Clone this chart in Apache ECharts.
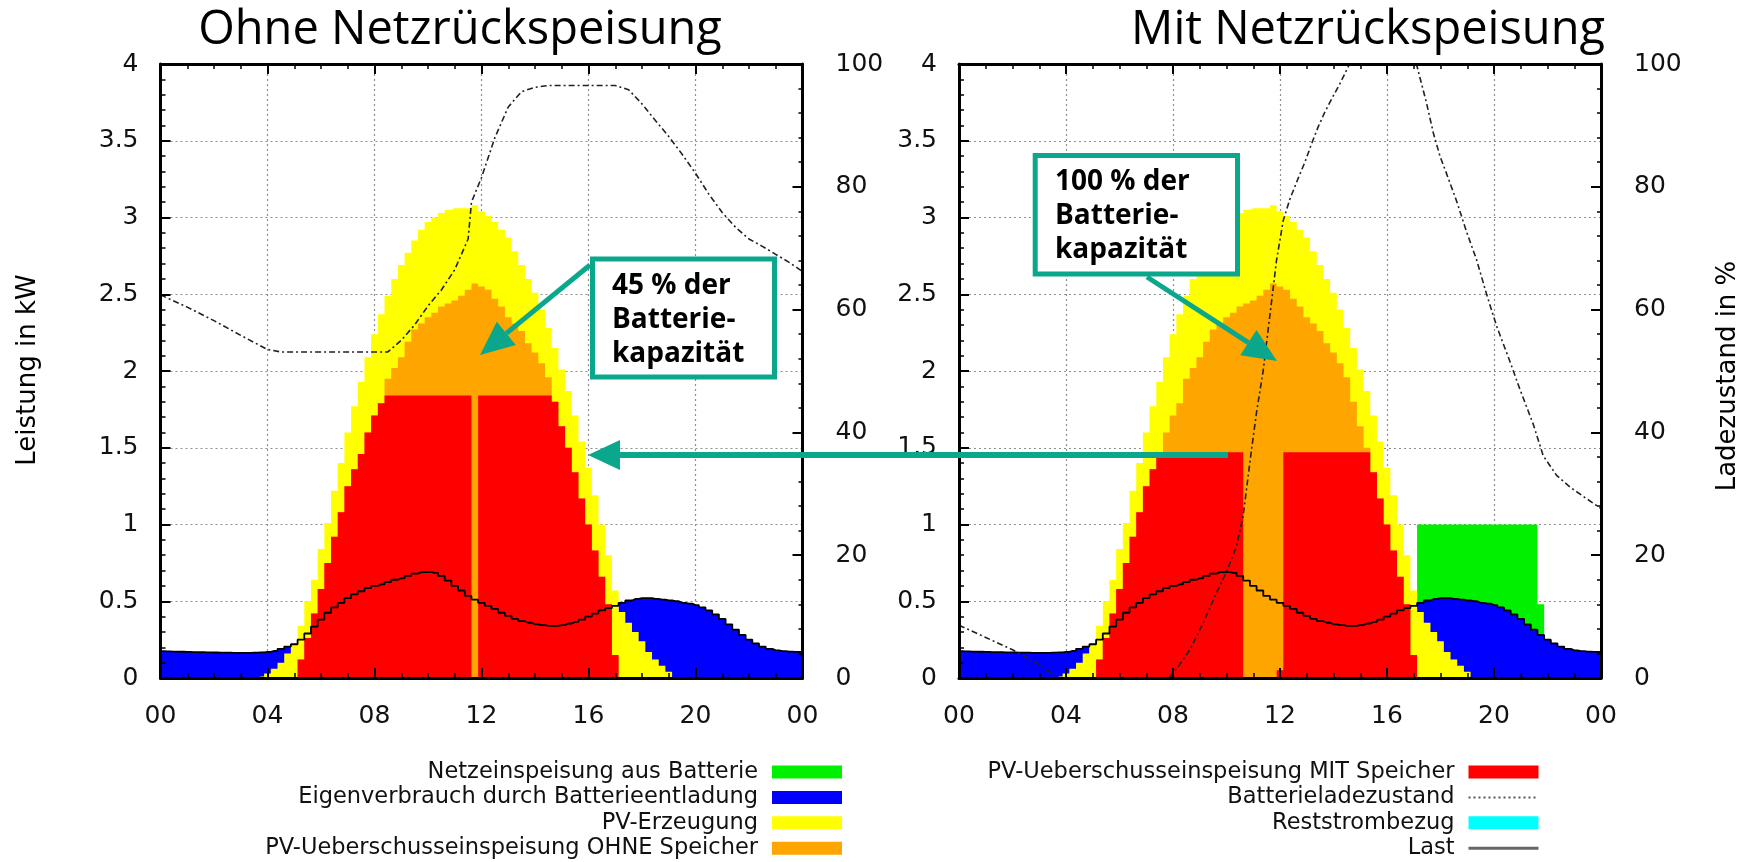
<!DOCTYPE html>
<html><head><meta charset="utf-8">
<script src="https://cdn.jsdelivr.net/npm/echarts@6/dist/echarts.min.js"></script>
<style>html,body{margin:0;padding:0;background:#fff}#c{width:1760px;height:862px}</style>
</head><body><div id="c"></div>
<script>
// ---------- time base: quarter hours 00:00 .. 24:00 ----------
const hours = [];
for (let k = 0; k <= 96; k++) hours.push(k * 0.25);
const xTickLabels = ['00', '04', '08', '12', '16', '20', '00'];

// ---------- values (kW) ----------
const pvPower = [
  0,0,0,0,0,0,0,0,0,0,
  0,0,0,0,0,0.01,0.03,0.06,0.10,0.16,
  0.22,0.34,0.50,0.64,0.84,1.01,1.22,1.40,1.60,1.77,
  1.93,2.09,2.24,2.37,2.49,2.60,2.69,2.77,2.85,2.92,
  2.97,3.00,3.03,3.05,3.06,3.06,3.06,3.08,3.04,3.01,
  2.97,2.92,2.87,2.78,2.69,2.60,2.51,2.40,2.28,2.15,
  2.01,1.87,1.71,1.54,1.37,1.19,1.00,0.80,0.57,0.43,
  0.36,0.30,0.24,0.17,0.12,0.08,0.04,0,0,0,
  0,0,0,0,0,0,0,0,0,0,
  0,0,0,0,0,0,0
];
const load = [
  0.175,0.173,0.172,0.171,0.170,0.169,0.168,0.167,0.166,0.165,
  0.165,0.164,0.164,0.164,0.165,0.167,0.170,0.176,0.190,0.205,
  0.22,0.25,0.29,0.335,0.38,0.425,0.46,0.49,0.52,0.545,
  0.565,0.585,0.60,0.61,0.625,0.64,0.65,0.665,0.68,0.69,
  0.69,0.685,0.665,0.635,0.60,0.57,0.535,0.51,0.49,0.47,
  0.45,0.425,0.405,0.385,0.37,0.36,0.35,0.345,0.34,0.34,
  0.345,0.355,0.365,0.38,0.40,0.42,0.44,0.455,0.47,0.49,
  0.505,0.515,0.52,0.52,0.515,0.51,0.505,0.50,0.49,0.485,
  0.475,0.46,0.44,0.415,0.385,0.35,0.315,0.28,0.25,0.225,
  0.205,0.19,0.18,0.175,0.172,0.17,0.17
];
const surplusNoStorage = [
  0,0,0,0,0,0,0,0,0,0,
  0,0,0,0,0,0,0,0,0,0,
  0,0.12,0.26,0.42,0.58,0.75,0.92,1.08,1.25,1.36,
  1.46,1.60,1.71,1.79,1.95,2.02,2.09,2.19,2.27,2.31,
  2.35,2.38,2.42,2.44,2.46,2.49,2.53,2.57,2.55,2.53,
  2.47,2.42,2.35,2.31,2.26,2.18,2.12,2.05,1.96,1.80,
  1.64,1.50,1.34,1.17,1.00,0.83,0.66,0.48,0.15,0,
  0,0,0,0,0,0,0,0,0,0,
  0,0,0,0,0,0,0,0,0,0,
  0,0,0,0,0,0,0
];
const feedInWithStorageLeft = [
  0,0,0,0,0,0,0,0,0,0,
  0,0,0,0,0,0,0,0,0,0,
  0,0.12,0.26,0.42,0.58,0.75,0.92,1.08,1.25,1.36,
  1.46,1.60,1.71,1.79,1.84,1.84,1.84,1.84,1.84,1.84,
  1.84,1.84,1.84,1.84,1.84,1.84,1.84,0,1.84,1.84,
  1.84,1.84,1.84,1.84,1.84,1.84,1.84,1.84,1.84,1.80,
  1.64,1.50,1.34,1.17,1.00,0.83,0.66,0.48,0.15,0,
  0,0,0,0,0,0,0,0,0,0,
  0,0,0,0,0,0,0,0,0,0,
  0,0,0,0,0,0,0
];
const feedInWithStorageRight = [
  0,0,0,0,0,0,0,0,0,0,
  0,0,0,0,0,0,0,0,0,0,
  0,0.12,0.26,0.42,0.58,0.75,0.92,1.08,1.25,1.36,
  1.46,1.47,1.47,1.47,1.47,1.47,1.47,1.47,1.47,1.47,
  1.47,1.47,1.47,0,0,0,0,0,0.05,1.47,
  1.47,1.47,1.47,1.47,1.47,1.47,1.47,1.47,1.47,1.47,
  1.47,1.47,1.34,1.17,1.00,0.83,0.66,0.48,0.15,0,
  0,0,0,0,0,0,0,0,0,0,
  0,0,0,0,0,0,0,0,0,0,
  0,0,0,0,0,0,0
];
const batteryDischarge = [
  0.175,0.173,0.172,0.171,0.170,0.169,0.168,0.167,0.166,0.165,
  0.165,0.164,0.164,0.164,0.165,0.167,0.170,0.176,0.190,0.205,
  0,0,0,0,0,0,0,0,0,0,
  0,0,0,0,0,0,0,0,0,0,
  0,0,0,0,0,0,0,0,0,0,
  0,0,0,0,0,0,0,0,0,0,
  0,0,0,0,0,0,0,0,0,0.49,
  0.505,0.515,0.52,0.52,0.515,0.51,0.505,0.50,0.49,0.485,
  0.475,0.46,0.44,0.415,0.385,0.35,0.315,0.28,0.25,0.225,
  0.205,0.19,0.18,0.175,0.172,0.17,0.17
];
const gridFeedFromBattery = [
  0,0,0,0,0,0,0,0,0,0,
  0,0,0,0,0,0,0,0,0,0,
  0,0,0,0,0,0,0,0,0,0,
  0,0,0,0,0,0,0,0,0,0,
  0,0,0,0,0,0,0,0,0,0,
  0,0,0,0,0,0,0,0,0,0,
  0,0,0,0,0,0,0,0,0,1.0,
  1.0,1.0,1.0,1.0,1.0,1.0,1.0,1.0,1.0,1.0,
  1.0,1.0,1.0,1.0,1.0,1.0,1.0,0.48,0,0,
  0,0,0,0,0,0,0
];
// state of charge (%), [hour, value]
const socLeft = [
  [0,62.4],[1,60.4],[2,58.2],[3,55.8],[4,53.5],[4.5,53.1],[8.5,53.1],[9,55],[9.5,57.5],
  [10,60.6],[10.5,63.2],[11,66.5],[11.5,71.5],[11.625,77.5],[12,81.5],[12.5,88],[13,93],
  [13.5,95.5],[14,96.2],[14.5,96.5],[17,96.5],[17.5,95.8],[18,93.5],[18.5,90.8],[19,88.2],
  [19.5,85.3],[20,82.2],[20.5,78.8],[21,75.8],[21.5,73.4],[22,71.5],[22.5,70.3],[23,69],
  [23.5,67.7],[24,66.2]
];
const socRight = [
  [0,8.6],[1,6.6],[2,4.6],[3,2.2],[3.7,0],[7.85,0],[8.25,2.2],[8.63,4.6],[9.12,8.9],
  [9.62,13.8],[10,17.3],[10.37,21.4],[10.62,26.3],[10.87,35],[11.12,43.2],[11.37,50],
  [11.62,59],[11.87,68],[12.12,74.5],[12.37,78],[12.69,81.5],[12.93,84],[13.18,87],
  [13.43,89.8],[13.68,92.2],[13.93,94.3],[14.24,96.8],[14.6,100],[17.1,100],[17.48,93.6],
  [17.73,88.8],[17.98,85],[18.23,82.1],[18.6,77.7],[18.98,72.6],[19.35,68.1],[19.73,62.4],
  [20.1,57.3],[20.6,51.5],[20.97,47],[21.47,41.3],[21.84,36.2],[22.34,33],[22.84,31.1],
  [23.46,29.2],[24,27.6]
];

// ---------- names / colours ----------
const N_GREEN = 'Netzeinspeisung aus Batterie';
const N_BLUE = 'Eigenverbrauch durch Batterieentladung';
const N_YELLOW = 'PV-Erzeugung';
const N_ORANGE = 'PV-Ueberschusseinspeisung OHNE Speicher';
const N_RED = 'PV-Ueberschusseinspeisung MIT Speicher';
const N_SOC = 'Batterieladezustand';
const N_CYAN = 'Reststrombezug';
const N_LOAD = 'Last';
const C = {green:'#00f000', blue:'#0000ff', yellow:'#ffff00', orange:'#ffa500', red:'#ff0000', cyan:'#00ffff'};
const TEAL = '#0ba78c';
const FONT = 'DejaVu Sans';

const pts = arr => hours.map((h, i) => [h, arr[i]]);

function area(name, gi, arr, color) {
  return {type:'line', name, xAxisIndex: gi*3, yAxisIndex: gi*3, data: arr ? pts(arr) : [],
    step:'middle', symbol:'none', showSymbol:false, lineStyle:{width:0}, color,
    itemStyle:{color}, areaStyle:{color, opacity:1}, emphasis:{disabled:true}, silent:true};
}
function loadLine(gi) {
  return {type:'line', name:N_LOAD, xAxisIndex: gi*3, yAxisIndex: gi*3, data: pts(load),
    step:'middle', symbol:'none', color:'#000', itemStyle:{color:'#000'},
    lineStyle:{color:'#000', width:1.8}, emphasis:{disabled:true}, silent:true, z:4};
}
function socLine(gi, d) {
  return {type:'line', name:N_SOC, xAxisIndex: gi*3, yAxisIndex: gi*3+1, data: d,
    symbol:'none', color:'#222', itemStyle:{color:'#222'},
    lineStyle:{color:'#222', width:1.6, type:[6,3,2,3]}, emphasis:{disabled:true}, silent:true, z:4};
}

function xAxes(gi) {
  const base = {type:'value', gridIndex: gi, min:0, max:24, interval:4};
  return [
    Object.assign({}, base, {position:'bottom', z:5,
      axisLine:{show:true, onZero:false, lineStyle:{color:'#000', width:3}},
      axisTick:{show:true, inside:true, length:10, lineStyle:{color:'#000', width:2}},
      minorTick:{show:true, splitNumber:4, length:5, lineStyle:{color:'#000', width:1.5}},
      axisLabel:{show:true, margin:26, fontSize:25, color:'#111', fontFamily:FONT,
        formatter: v => xTickLabels[Math.round(v/4)]},
      splitLine:{show:false}}),
    Object.assign({}, base, {position:'top', z:5,
      axisLine:{show:true, onZero:false, lineStyle:{color:'#000', width:3}},
      axisTick:{show:true, inside:true, length:10, lineStyle:{color:'#000', width:2}},
      minorTick:{show:true, splitNumber:4, length:5, lineStyle:{color:'#000', width:1.5}},
      axisLabel:{show:false}, splitLine:{show:false}}),
    Object.assign({}, base, {position:'bottom', z:0,
      axisLine:{show:false}, axisTick:{show:false}, axisLabel:{show:false},
      splitLine:{show:true, lineStyle:{color:'#8f8f8f', width:1.2, type:[2,3]}}})
  ];
}
function yAxes(gi) {
  return [
    {type:'value', gridIndex:gi, min:0, max:4, interval:0.5, position:'left', z:5,
      axisLine:{show:true, onZero:false, lineStyle:{color:'#000', width:3}},
      axisTick:{show:true, inside:true, length:10, lineStyle:{color:'#000', width:2}},
      minorTick:{show:true, splitNumber:5, length:5, lineStyle:{color:'#000', width:1.5}},
      axisLabel:{show:true, margin:22, fontSize:25, color:'#111', fontFamily:FONT},
      splitLine:{show:false}},
    {type:'value', gridIndex:gi, min:0, max:100, interval:20, position:'right', z:5,
      axisLine:{show:true, onZero:false, lineStyle:{color:'#000', width:3}},
      axisTick:{show:true, inside:true, length:10, lineStyle:{color:'#000', width:2}},
      minorTick:{show:true, splitNumber:5, length:4, lineStyle:{color:'#000', width:1.5}},
      axisLabel:{show:true, margin:33, fontSize:25, color:'#111', fontFamily:FONT},
      splitLine:{show:false}},
    {type:'value', gridIndex:gi, min:0, max:4, interval:0.5, position:'left', z:0,
      axisLine:{show:false}, axisTick:{show:false}, axisLabel:{show:false},
      splitLine:{show:true, lineStyle:{color:'#8f8f8f', width:1.2, type:[2,3]}}}
  ];
}

function textEl(x, y, text, size, opts) {
  return Object.assign({type:'text', x, y, z:100,
    style:{text, fontSize:size, fontFamily:FONT, fill:'#000', align:'center', verticalAlign:'middle'}}, opts || {});
}

const legendCommon = {orient:'vertical', align:'right', top:759.5, height:140, itemWidth:70, itemHeight:13,
  itemGap:0.4, padding:0, selectedMode:false,
  textStyle:{fontFamily:FONT, fontSize:22.5, color:'#111', lineHeight:25, padding:[0, 9, 0, 0]}};
const hiddenSymbol = {opacity:0, color:'rgba(0,0,0,0)', borderColor:'rgba(0,0,0,0)', borderWidth:0};

const option = {
  animation:false,
  backgroundColor:'#fff',
  grid:[
    {left:160.5, top:64, width:642, height:614},
    {left:959, top:64, width:642, height:614}
  ],
  xAxis: xAxes(0).concat(xAxes(1)),
  yAxis: yAxes(0).concat(yAxes(1)),
  legend:[
    Object.assign({}, legendCommon, {right:918, data:[
      {name:N_GREEN, icon:'rect'}, {name:N_BLUE, icon:'rect'},
      {name:N_YELLOW, icon:'rect'}, {name:N_ORANGE, icon:'rect'}]}),
    Object.assign({}, legendCommon, {right:220, data:[
      {name:N_RED, icon:'rect'},
      {name:N_SOC, itemStyle:hiddenSymbol, lineStyle:{color:'#555', width:2, type:[2,3]}},
      {name:N_CYAN, icon:'rect'},
      {name:N_LOAD, itemStyle:hiddenSymbol, lineStyle:{color:'#666', width:3, type:'solid'}}]})
  ],
  series:[
    // left: ohne Netzrückspeisung
    area(N_BLUE, 0, batteryDischarge, C.blue),
    area(N_YELLOW, 0, pvPower, C.yellow),
    area(N_ORANGE, 0, surplusNoStorage, C.orange),
    area(N_RED, 0, feedInWithStorageLeft, C.red),
    area(N_CYAN, 0, null, C.cyan),
    loadLine(0),
    socLine(0, socLeft),
    // right: mit Netzrückspeisung
    area(N_GREEN, 1, gridFeedFromBattery, C.green),
    area(N_BLUE, 1, batteryDischarge, C.blue),
    area(N_YELLOW, 1, pvPower, C.yellow),
    area(N_ORANGE, 1, surplusNoStorage, C.orange),
    area(N_RED, 1, feedInWithStorageRight, C.red),
    loadLine(1),
    socLine(1, socRight)
  ],
  graphic:[
    textEl(460, 31, 'Ohne Netzrückspeisung', 47, {style:{text:'Ohne Netzrückspeisung', fontSize:47, fontFamily:'Open Sans', fill:'#000', align:'center', verticalAlign:'middle'}}),
    textEl(1605, 31, 'Mit Netzrückspeisung', 47, {style:{text:'Mit Netzrückspeisung', fontSize:47, fontFamily:'Open Sans', fill:'#000', align:'right', verticalAlign:'middle'}}),
    textEl(28, 370, 'Leistung in kW', 26, {rotation:Math.PI/2}),
    textEl(1728, 376, 'Ladezustand in %', 26, {rotation:Math.PI/2}),
    // annotation boxes
    {type:'line', z:99, shape:{x1:590, y1:265, x2:506.3, y2:333.4}, style:{stroke:TEAL, lineWidth:5}},
    {type:'polygon', z:99, shape:{points:[[480,355],[515.8,345.0],[496.8,321.8]]}, style:{fill:TEAL}},
    {type:'rect', z:100, shape:{x:592.5, y:259, width:182, height:118}, style:{fill:'#fff', stroke:TEAL, lineWidth:5}},
    {type:'text', z:101, x:612, y:269, style:{text:'45 % der\nBatterie-\nkapazität', fontSize:28, fontWeight:'bold', fontFamily:'Open Sans', lineHeight:34, fill:'#000', align:'left', verticalAlign:'top'}},
    {type:'line', z:99, shape:{x1:1147, y1:277, x2:1248.4, y2:342.6}, style:{stroke:TEAL, lineWidth:5}},
    {type:'polygon', z:99, shape:{points:[[1277,361],[1240.3,355.2],[1256.5,330.0]]}, style:{fill:TEAL}},
    {type:'rect', z:100, shape:{x:1035.2, y:155.4, width:202.3, height:118.7}, style:{fill:'#fff', stroke:TEAL, lineWidth:5}},
    {type:'text', z:101, x:1055, y:165, style:{text:'100 % der\nBatterie-\nkapazität', fontSize:28, fontWeight:'bold', fontFamily:'Open Sans', lineHeight:34, fill:'#000', align:'left', verticalAlign:'top'}},
    {type:'line', z:99, shape:{x1:1228, y1:455, x2:618, y2:455}, style:{stroke:TEAL, lineWidth:6}},
    {type:'polygon', z:99, shape:{points:[[588,455],[620,440],[620,470]]}, style:{fill:TEAL}}
  ]
};

const chart = echarts.init(document.getElementById('c'), null, {renderer:'canvas'});
chart.setOption(option);
</script>
</body></html>
